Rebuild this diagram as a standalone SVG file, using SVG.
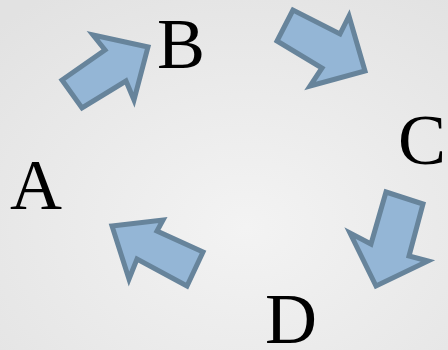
<svg xmlns="http://www.w3.org/2000/svg" width="448" height="350" viewBox="0 0 448 350">
<defs>
<radialGradient id="bg" cx="0.55" cy="0.65" r="0.8">
<stop offset="0" stop-color="#f3f3f3"/>
<stop offset="1" stop-color="#e2e2e2"/>
</radialGradient>
<style>
.arrow{fill:#94b6d6;stroke:#67849b;stroke-width:5;stroke-linejoin:miter}
.lbl{font-family:"Liberation Serif","Times New Roman",serif;font-size:72px;fill:#000}
</style>
</defs>
<rect width="448" height="350" fill="url(#bg)"/>
<g id="connectors">
<polygon id="arrow-AB" class="arrow" points="62,80 82,108 126,81 134,100 148,47 93,35 105,50"/>
<polygon id="arrow-BC" class="arrow" points="293,10 277,41 322,68 310,86 365,71 349,16 340,34"/>
<polygon id="arrow-CD" class="arrow" points="386,192 423,204 409,256 428,261 376,286 350,233 371,244"/>
<polygon id="arrow-DA" class="arrow" points="112,226 163,220 157,231 203,252 187,286 137,259 129,279"/>
</g>
<g id="node-A"><text class="lbl" x="10" y="209">A</text></g>
<g id="node-B"><text class="lbl" x="157" y="68">B</text></g>
<g id="node-C"><text class="lbl" x="398" y="164">C</text></g>
<g id="node-D"><text class="lbl" x="265" y="343">D</text></g>
</svg>
